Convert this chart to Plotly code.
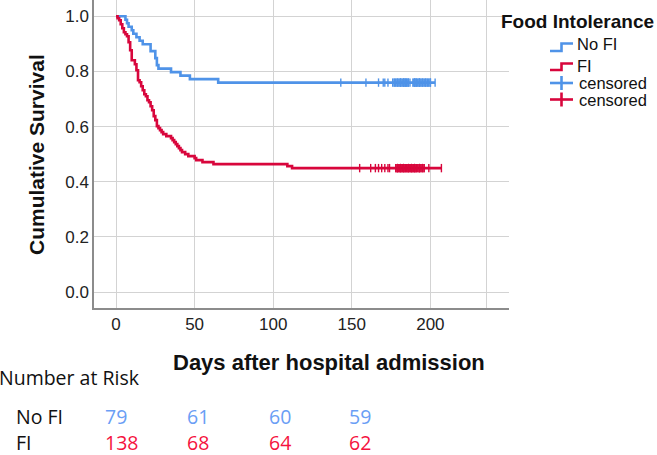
import numpy as np
import plotly.graph_objects as go

# ---------------- data ----------------
group_names = ["No FI", "FI"]

nofi_event_days = [6, 7, 8, 10, 11, 13, 15, 17, 22, 22, 25, 25, 26, 26, 27, 35, 41, 47, 65]
nofi_censor_days = [143, 159, 167, 170, 171, 173,
                    176, 177, 177, 178, 178, 179, 179, 180, 180, 181, 181, 181, 182, 182,
                    183, 183, 183, 184, 184, 184, 185, 185, 185, 186, 186, 187,
                    189, 189, 190, 190, 190, 191, 191, 191, 192, 192, 193, 193, 193, 194,
                    194, 195, 195, 196, 196, 197, 197, 198, 198, 199, 199, 200, 200, 203]
nofi_total = 79

fi_event_days = [1, 2, 3, 3, 4, 4, 5, 5, 6, 7, 8, 8, 8, 9, 9, 9, 9, 10, 10, 10, 10, 10,
                 12, 12, 13, 13, 13, 14, 14, 14, 14, 14, 15, 16, 16, 17, 17, 18, 18,
                 19, 20, 20, 21, 22, 22, 23, 23, 24, 24, 24, 25, 25, 26, 26, 26, 27, 28,
                 29, 30, 32, 35, 36, 37, 38, 39, 40, 41, 42, 44, 46, 50, 51, 55, 62, 109, 112]
fi_censor_days = [155, 162, 165, 167, 169, 171, 173, 174,
                  178, 178, 179, 179, 179, 180, 180, 180, 181, 181, 181, 182, 182, 182,
                  183, 183, 183, 184, 184, 184, 185, 185, 185, 186, 186, 186, 187, 187,
                  187, 188, 188, 188, 189, 189, 189, 190, 190, 190, 191, 191, 191, 192,
                  192, 193, 193, 193, 194, 194, 195, 195, 196, 196, 199, 207]
fi_total = 138

risk_days = [0, 50, 100, 150]
nofi_at_risk = [79, 61, 60, 59]
fi_at_risk = [138, 68, 64, 62]

y_ticks = [0.0, 0.2, 0.4, 0.6, 0.8, 1.0]
x_ticks = [0, 50, 100, 150, 200]

# ---------------- styles ----------------
line_colors = ["#4f93e8", "#d8063c"]
table_colors = ["#6a9ef5", "#f5123e"]
W, H = 657, 455
ML, MR, MT, MB = 94, 148, 0, 147
PW, PH = W - ML - MR, H - MT - MB


def km(events, censors, total):
    ev = np.array(events, dtype=float)
    ce = np.array(censors, dtype=float)
    times = np.unique(ev)
    xs, ys = [0.0], [1.0]
    s = 1.0
    for t in times:
        at_risk = total - np.sum(ev < t) - np.sum(ce < t)
        d = np.sum(ev == t)
        s *= 1 - d / at_risk
        xs.append(t)
        ys.append(s)
    end = max(ev.max(), ce.max())
    xs.append(end)
    ys.append(s)
    cens_y = [ys[np.searchsorted(xs[:-1], c, side="right") - 1] for c in ce]
    return xs, ys, list(ce), cens_y


def px2paper(px, py):
    return (px - ML) / PW, (H - MB - py) / PH


fig = go.Figure()
groups = [(nofi_event_days, nofi_censor_days, nofi_total),
          (fi_event_days, fi_censor_days, fi_total)]
for i, (e, c, n) in enumerate(groups):
    xs, ys, cx, cy = km(e, c, n)
    fig.add_trace(go.Scatter(x=xs, y=ys, mode="lines", line=dict(color=line_colors[i], width=2.6, shape="hv"),
                             name=group_names[i], showlegend=False, hoverinfo="skip"))
    fig.add_trace(go.Scatter(x=cx, y=cy, mode="markers", showlegend=False, hoverinfo="skip",
                             marker=dict(symbol="line-ns", size=6, line=dict(color=line_colors[i], width=1.4))))

# grid + axes
fig.update_xaxes(range=[-14, 250], tickvals=x_ticks + [236], ticktext=[str(v) for v in x_ticks] + [""],
                 showgrid=True, gridcolor="#d3d3d3", gridwidth=1, zeroline=False,
                 showline=True, linecolor="#8c8c8c", linewidth=1.5, ticks="",
                 tickfont=dict(family="Liberation Sans, Arial", size=17, color="#222"))
fig.update_yaxes(range=[-0.058, 1.059], tickvals=y_ticks, ticktext=[f"{v:.1f}" for v in y_ticks],
                 showgrid=True, gridcolor="#d3d3d3", gridwidth=1, zeroline=False,
                 showline=True, linecolor="#8c8c8c", linewidth=1.5, ticks="",
                 tickfont=dict(family="Liberation Sans, Arial", size=17, color="#222"))

ann = []
# axis titles
x0, y0 = px2paper(329, 362)
ann.append(dict(x=x0, y=y0, xref="paper", yref="paper", text="<b>Days after hospital admission</b>",
                showarrow=False, xanchor="center", yanchor="middle",
                font=dict(family="Liberation Sans, Arial", size=22, color="#111")))
x0, y0 = px2paper(36, 155)
ann.append(dict(x=x0, y=y0, xref="paper", yref="paper", text="<b>Cumulative Survival</b>", textangle=-90,
                showarrow=False, xanchor="center", yanchor="middle",
                font=dict(family="Liberation Sans, Arial", size=21, color="#111")))

# legend
x0, y0 = px2paper(499, 22)
ann.append(dict(x=x0, y=y0, xref="paper", yref="paper", text="<b>Food Intolerance</b>", showarrow=False,
                xanchor="left", yanchor="middle", font=dict(family="Liberation Sans, Arial", size=19, color="#111")))
leg_items = [("No FI", 575, 44), ("FI", 575, 66), ("censored", 577, 83), ("censored", 577, 99.5)]
for txt, lx, ly in leg_items:
    x0, y0 = px2paper(lx, ly)
    ann.append(dict(x=x0, y=y0, xref="paper", yref="paper", text=txt, showarrow=False,
                    xanchor="left", yanchor="middle", font=dict(family="Liberation Sans, Arial", size=16.5, color="#111")))

shapes = []
for i, (ylo, yhi) in enumerate([(51, 43.5), (70, 63.5)]):
    pts = [px2paper(550, ylo), px2paper(561.5, ylo), px2paper(561.5, yhi), px2paper(573, yhi)]
    path = "M " + " L ".join(f"{a},{b}" for a, b in pts)
    shapes.append(dict(type="path", xref="paper", yref="paper", path=path,
                       line=dict(color=line_colors[i], width=2.6)))
for i, cyy in enumerate([83, 99.5]):
    a = px2paper(550, cyy); b = px2paper(573, cyy)
    shapes.append(dict(type="line", xref="paper", yref="paper", x0=a[0], y0=a[1], x1=b[0], y1=b[1],
                       line=dict(color=line_colors[i], width=2.6)))
    a = px2paper(561.5, cyy - 7); b = px2paper(561.5, cyy + 7)
    shapes.append(dict(type="line", xref="paper", yref="paper", x0=a[0], y0=a[1], x1=b[0], y1=b[1],
                       line=dict(color=line_colors[i], width=2.6)))

# number at risk table
tfont = "Open Sans, Noto Sans"
x0, y0 = px2paper(-3, 377)
ann.append(dict(x=x0, y=y0, xref="paper", yref="paper", text="Number at Risk", showarrow=False,
                xanchor="left", yanchor="middle", font=dict(family=tfont, size=19.5, color="#111")))
row_y = [416, 442.5]
for r, name in enumerate(group_names):
    x0, y0 = px2paper(14, row_y[r])
    ann.append(dict(x=x0, y=y0, xref="paper", yref="paper", text=name, showarrow=False,
                    xanchor="left", yanchor="middle", font=dict(family=tfont, size=19.5, color="#111")))
col_shift = [-13, -10, -6, -5]
for r, vals in enumerate([nofi_at_risk, fi_at_risk]):
    _, y0 = px2paper(0, row_y[r])
    for j, d in enumerate(risk_days):
        ann.append(dict(x=d, y=y0, xref="x", yref="paper", text=str(vals[j]), showarrow=False,
                        xanchor="left", yanchor="middle", xshift=col_shift[j],
                        font=dict(family=tfont, size=19.5, color=table_colors[r])))

fig.update_layout(width=W, height=H, margin=dict(l=ML, r=MR, t=MT, b=MB),
                  plot_bgcolor="white", paper_bgcolor="white",
                  annotations=ann, shapes=shapes, showlegend=False)

fig.write_html("out.html", config={"displayModeBar": False},
               post_script="document.body.style.margin='0';document.body.style.overflow='hidden';")
